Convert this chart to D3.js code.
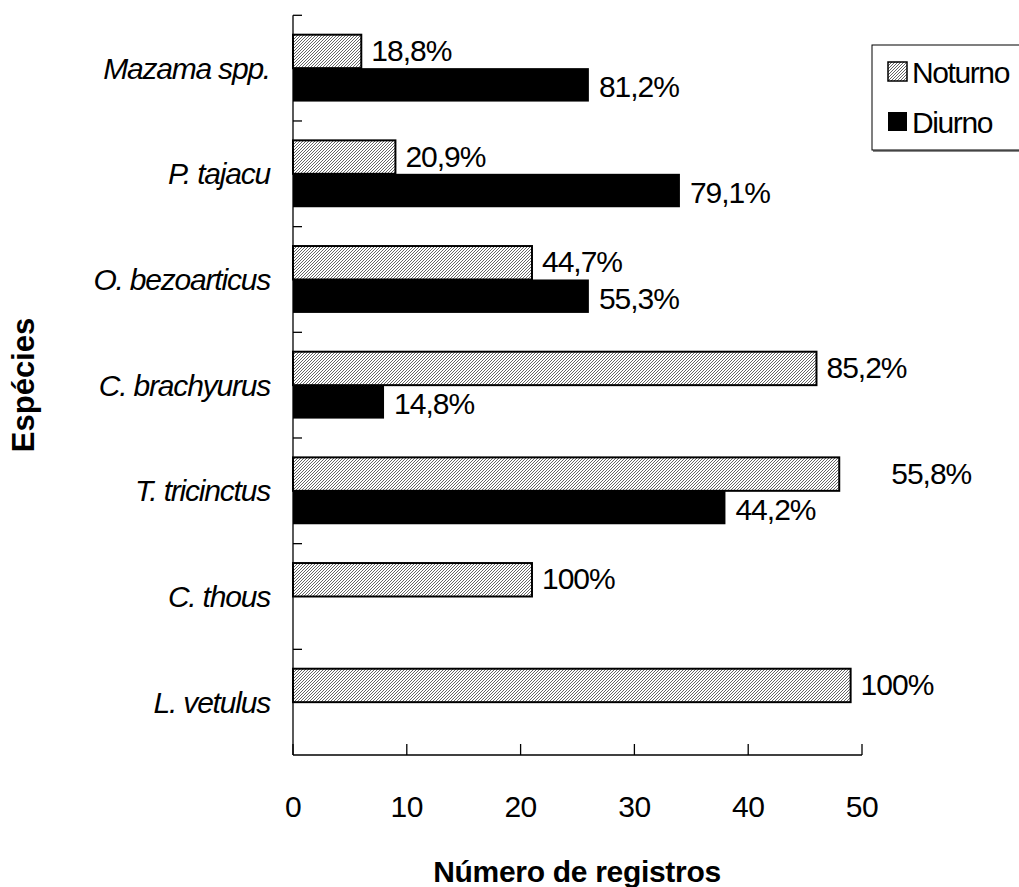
<!DOCTYPE html>
<html>
<head>
<meta charset="utf-8">
<script src="https://cdn.jsdelivr.net/npm/d3@7"></script>
<style>
  html, body { margin: 0; padding: 0; background: #fff; }
  svg { display: block; font-family: "Liberation Sans", Arial, sans-serif; }
</style>
</head>
<body>
<svg id="chart" width="1019" height="887"></svg>
<script>
// ---- data ----
const species = ["Mazama spp.", "P. tajacu", "O. bezoarticus", "C. brachyurus", "T. tricinctus", "C. thous", "L. vetulus"];
const noturno = [6, 9, 21, 46, 48, 21, 49];
const diurno  = [26, 34, 26, 8, 38, 0, 0];
const noturnoLabels = ["18,8%", "20,9%", "44,7%", "85,2%", "55,8%", "100%", "100%"];
const diurnoLabels  = ["81,2%", "79,1%", "55,3%", "14,8%", "44,2%", "", ""];
const seriesNames = ["Noturno", "Diurno"];
const xTicks = [0, 10, 20, 30, 40, 50];
const xTitle = "Número de registros";
const yTitle = "Espécies";

(function () {
// ---- layout ----
const svg = d3.select("#chart");
const pLeft = 293, pRight = 862, pTop = 15.3, pBottom = 755;
const FS = 30;

const x = d3.scaleLinear().domain([0, 50]).range([pLeft, pRight]);
const y = d3.scaleBand().domain(species).range([pTop, pBottom]).paddingInner(0).paddingOuter(0);
const sub = d3.scaleBand().domain(seriesNames).range([0, y.bandwidth()]).paddingInner(0).paddingOuter(0.58);

// hatch pattern
const defs = svg.append("defs");
const pat = defs.append("pattern").attr("id", "hatch").attr("patternUnits", "userSpaceOnUse")
  .attr("width", 3).attr("height", 3);
pat.append("rect").attr("width", 3).attr("height", 3).attr("fill", "#fff");
pat.append("path").attr("d", "M-1,1 l2,-2 M0,3 l3,-3 M2,4 l2,-2")
  .attr("stroke", "#555").attr("stroke-width", 0.9);

const rows = species.map((s, i) => ({
  s, vals: [
    { key: "Noturno", v: noturno[i], label: noturnoLabels[i] },
    { key: "Diurno", v: diurno[i], label: diurnoLabels[i] }
  ]
}));

// bars
const g = svg.append("g");
rows.forEach(r => {
  r.vals.forEach(d => {
    if (d.v <= 0) return;
    const yy = y(r.s) + sub(d.key);
    if (d.key === "Noturno") {
      g.append("rect").attr("x", x(0)).attr("y", yy)
        .attr("width", x(d.v) - x(0)).attr("height", sub.bandwidth())
        .attr("fill", "url(#hatch)").attr("stroke", "#000").attr("stroke-width", 2);
    } else {
      g.append("rect").attr("x", x(0)).attr("y", yy)
        .attr("width", x(d.v) - x(0)).attr("height", sub.bandwidth())
        .attr("fill", "#000");
    }
  });
});

// value labels
const labelNudge = { "T. tricinctus|Noturno": 42 };
rows.forEach(r => {
  r.vals.forEach(d => {
    if (!d.label) return;
    const yy = y(r.s) + sub(d.key) + sub.bandwidth() / 2;
    const nudge = labelNudge[r.s + "|" + d.key] || 0;
    g.append("text").attr("x", x(d.v) + 10 + nudge).attr("y", yy + (d.key === "Diurno" ? 2 : -1))
      .attr("dominant-baseline", "central").attr("font-size", FS).attr("letter-spacing", -1)
      .attr("fill", "#000").text(d.label);
  });
});

// y axis
const yAxis = svg.append("g");
yAxis.append("line").attr("x1", pLeft).attr("x2", pLeft).attr("y1", pTop).attr("y2", pBottom)
  .attr("stroke", "#000").attr("stroke-width", 1.3);
const boundaries = species.map(s => y(s));
yAxis.selectAll("line.tk").data(boundaries).enter().append("line").attr("class", "tk")
  .attr("x1", pLeft).attr("x2", pLeft + 9).attr("y1", d => d).attr("y2", d => d)
  .attr("stroke", "#000").attr("stroke-width", 1.3);
yAxis.selectAll("text").data(species).enter().append("text")
  .attr("x", 270).attr("y", d => y(d) + y.bandwidth() / 2)
  .attr("text-anchor", "end").attr("dominant-baseline", "central")
  .attr("font-size", FS).attr("letter-spacing", -1.2).attr("font-style", "italic").text(d => d);

// x axis
const xAxis = svg.append("g");
xAxis.append("line").attr("x1", pLeft).attr("x2", pRight).attr("y1", pBottom).attr("y2", pBottom)
  .attr("stroke", "#000").attr("stroke-width", 1.3);
xAxis.selectAll("line.tk").data(xTicks).enter().append("line").attr("class", "tk")
  .attr("x1", d => x(d)).attr("x2", d => x(d)).attr("y1", pBottom).attr("y2", pBottom - 11)
  .attr("stroke", "#000").attr("stroke-width", 1.3);
xAxis.selectAll("text").data(xTicks).enter().append("text")
  .attr("x", d => x(d)).attr("y", 817).attr("text-anchor", "middle")
  .attr("font-size", FS).attr("letter-spacing", -0.5).text(d => d);

// titles
svg.append("text").attr("x", 577).attr("y", 882).attr("text-anchor", "middle")
  .attr("font-size", 30).attr("letter-spacing", -0.3).attr("font-weight", "bold").text(xTitle);
svg.append("text").attr("transform", "translate(34,385) rotate(-90)").attr("text-anchor", "middle")
  .attr("font-size", 31).attr("font-weight", "bold").text(yTitle);

// legend
const lg = svg.append("g");
lg.append("rect").attr("x", 873).attr("y", 47).attr("width", 160).attr("height", 105)
  .attr("fill", "#888");
lg.append("rect").attr("x", 872).attr("y", 45).attr("width", 160).attr("height", 105)
  .attr("fill", "#fff").attr("stroke", "#000").attr("stroke-width", 1);
const legY = d3.scaleBand().domain(seriesNames).range([47, 147]).paddingOuter(0);
seriesNames.forEach(n => {
  const cy = legY(n) + legY.bandwidth() / 2;
  lg.append("rect").attr("x", 888).attr("y", cy - 10).attr("width", 19).attr("height", 19)
    .attr("fill", n === "Noturno" ? "url(#hatch)" : "#000")
    .attr("stroke", "#000").attr("stroke-width", n === "Noturno" ? 1.5 : 0);
  lg.append("text").attr("x", 912).attr("y", cy).attr("dominant-baseline", "central")
    .attr("font-size", FS).attr("letter-spacing", -1.4).text(n);
});
})();
</script>
</body>
</html>
